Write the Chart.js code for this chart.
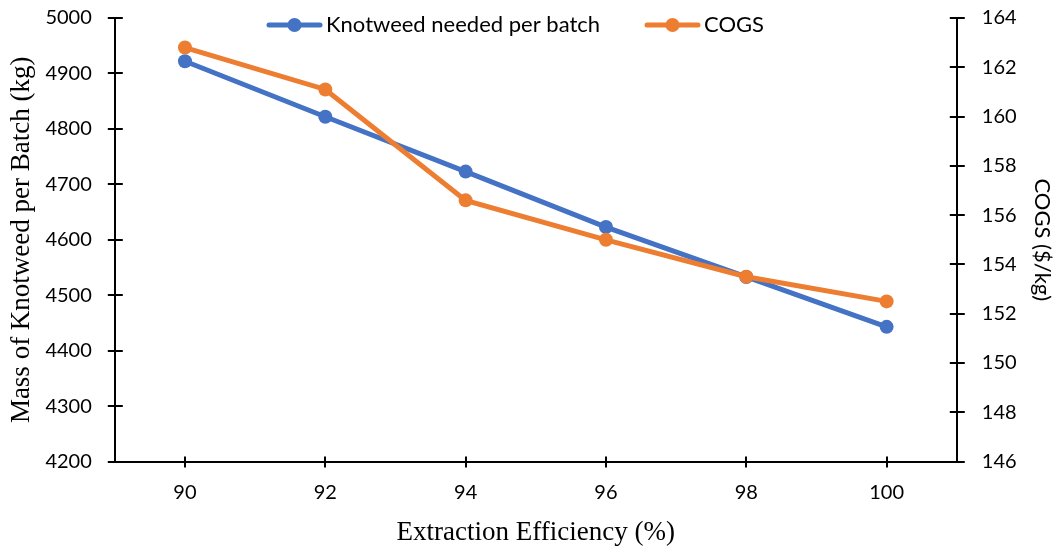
<!DOCTYPE html>
<html lang="en">
<head>
  <meta charset="UTF-8" />
  <title>Knotweed vs COGS</title>
  <script src="https://cdn.jsdelivr.net/npm/chart.js"></script>
  <style>
    html, body {
      margin: 0;
      padding: 0;
      background: #ffffff;
    }
    #wrap {
      width: 1060px;
      height: 546px;
    }
  </style>
</head>
<body>
  <div id="wrap">
    <canvas id="chart" width="1060" height="546"></canvas>
  </div>

  <script>
    const efficiency = ['90', '92', '94', '96', '98', '100'];
    const knotweedKg = [4922, 4822, 4723, 4623, 4533, 4443];
    const cogsPerKg = [162.8, 161.1, 156.6, 155.0, 153.5, 152.5];
    const seriesNames = ['Knotweed needed per batch', 'COGS'];

    const BLUE = '#4472C4';
    const ORANGE = '#ED7D31';
    const SANS = 'Lato, "Open Sans", sans-serif';
    const SERIF = '"Liberation Serif", "Times New Roman", serif';

    // cross-style tick marks on every axis (half inside, half outside)
    const crossTicks = {
      id: 'crossTicks',
      afterDatasetsDraw(chart) {
        const ctx = chart.ctx;
        ctx.save();
        ctx.strokeStyle = '#000';
        ctx.lineWidth = 2;
        const x = chart.scales.x, y = chart.scales.y, y1 = chart.scales.y1;
        ctx.beginPath();
        x.ticks.forEach((t, i) => {
          const px = Math.round(x.getPixelForTick(i));
          ctx.moveTo(px, x.top - 5);
          ctx.lineTo(px, x.top + 6);
        });
        y.ticks.forEach((t, i) => {
          const py = Math.round(y.getPixelForTick(i));
          ctx.moveTo(y.right - 7, py);
          ctx.lineTo(y.right + 8, py);
        });
        y1.ticks.forEach((t, i) => {
          const py = Math.round(y1.getPixelForTick(i));
          ctx.moveTo(y1.left - 7, py);
          ctx.lineTo(y1.left + 8, py);
        });
        ctx.stroke();
        ctx.restore();
      }
    };

    // legend drawn inside the plot area, line + marker swatches
    const insideLegend = {
      id: 'insideLegend',
      afterDraw(chart) {
        const ctx = chart.ctx;
        const items = [
          { x: 267, ds: chart.data.datasets[1] },
          { x: 645, ds: chart.data.datasets[0] }
        ];
        const yMid = 25;
        ctx.save();
        ctx.font = '22px ' + SANS;
        ctx.textBaseline = 'middle';
        items.forEach(it => {
          ctx.strokeStyle = it.ds.borderColor;
          ctx.lineWidth = 5;
          ctx.lineCap = 'round';
          ctx.beginPath();
          ctx.moveTo(it.x + 2, yMid);
          ctx.lineTo(it.x + 53, yMid);
          ctx.stroke();
          ctx.fillStyle = it.ds.borderColor;
          ctx.beginPath();
          ctx.arc(it.x + 27.5, yMid, 7, 0, Math.PI * 2);
          ctx.fill();
          ctx.fillStyle = '#000';
          ctx.fillText(it.ds.label, it.x + 59, yMid);
        });
        ctx.restore();
      }
    };

    const tickFont = { family: SANS, size: 20 };
    const plain = v => String(v);
    // labels sit far from the axis, so don't let that padding push the plot top down
    const noEdgePad = s => { s.paddingTop = 0; s.paddingBottom = 0; };

    new Chart(document.getElementById('chart'), {
      type: 'line',
      data: {
        labels: efficiency,
        datasets: [
          {
            label: seriesNames[1],
            data: cogsPerKg,
            yAxisID: 'y1',
            borderColor: ORANGE,
            backgroundColor: ORANGE,
            borderWidth: 5,
            pointRadius: 7,
            pointHoverRadius: 7,
            pointBorderWidth: 0,
            tension: 0
          },
          {
            label: seriesNames[0],
            data: knotweedKg,
            yAxisID: 'y',
            borderColor: BLUE,
            backgroundColor: BLUE,
            borderWidth: 5,
            pointRadius: 7,
            pointHoverRadius: 7,
            pointBorderWidth: 0,
            tension: 0
          }
        ]
      },
      options: {
        responsive: false,
        animation: false,
        layout: { padding: { left: 6, right: 2, top: 18, bottom: -3 } },
        plugins: {
          legend: { display: false },
          tooltip: { enabled: false }
        },
        scales: {
          x: {
            offset: true,
            grid: { display: false, drawTicks: false },
            border: { display: true, color: '#000', width: 2 },
            ticks: { color: '#000', font: tickFont, padding: 19 },
            title: {
              display: true,
              text: 'Extraction Efficiency (%)',
              color: '#000',
              font: { family: SERIF, size: 27 },
              padding: { top: -7, bottom: 0 }
            }
          },
          y: {
            position: 'left',
            min: 4200,
            max: 5000,
            afterFit: noEdgePad,
            ticks: { stepSize: 100, color: '#000', font: tickFont, padding: 23, callback: plain },
            grid: { display: false, drawTicks: false },
            border: { display: true, color: '#000', width: 2 },
            title: {
              display: true,
              text: 'Mass of Knotweed per Batch (kg)',
              color: '#000',
              font: { family: SERIF, size: 27 },
              padding: { top: 0, bottom: -16 }
            }
          },
          y1: {
            position: 'right',
            min: 146,
            max: 164,
            afterFit: noEdgePad,
            ticks: { stepSize: 2, color: '#000', font: tickFont, padding: 25, callback: plain },
            grid: { display: false, drawTicks: false },
            border: { display: true, color: '#000', width: 2 },
            title: {
              display: true,
              text: 'COGS ($/kg)',
              color: '#000',
              font: { family: SANS, size: 22 },
              padding: { top: 3, bottom: -13 }
            }
          }
        }
      },
      plugins: [crossTicks, insideLegend]
    });
  </script>
</body>
</html>
